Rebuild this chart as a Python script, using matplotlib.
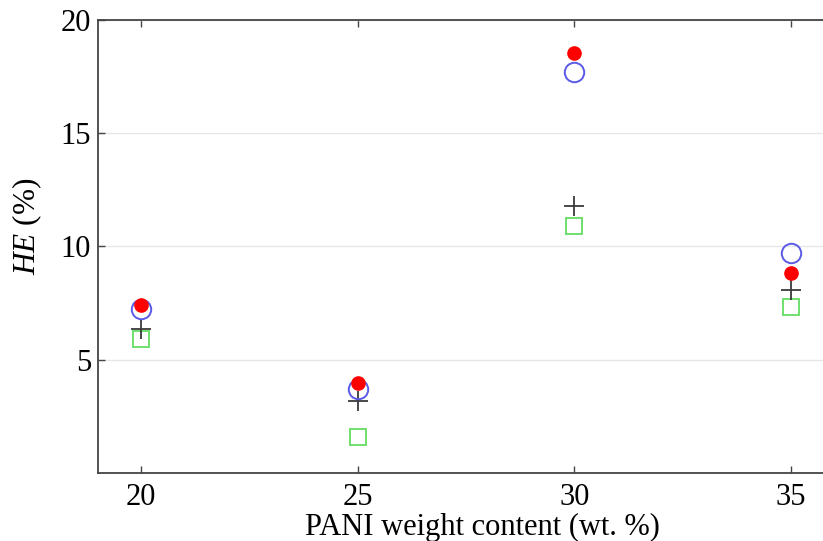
import matplotlib
matplotlib.use("Agg")
import matplotlib.pyplot as plt

# PANI weight content (wt. %) and HE (%) for four sample groups
pani_content = [20, 25, 30, 35]
he_filled = [7.42, 3.97, 18.53, 8.85]
he_circle = [7.23, 3.70, 17.70, 9.70]
he_plus = [6.35, 3.20, 11.80, 8.06]
he_square = [5.91, 1.59, 10.91, 7.35]

x_ticks = [20, 25, 30, 35]
y_ticks = [5, 10, 15, 20]

plt.rcParams['font.family'] = ['Liberation Serif', 'DejaVu Serif']
plt.rcParams['mathtext.fontset'] = 'custom'
plt.rcParams['mathtext.it'] = 'Liberation Serif:italic'
plt.rcParams['mathtext.rm'] = 'Liberation Serif'

fig = plt.figure(figsize=(8.23, 5.41), dpi=100)
W, H = 823, 541
left, right, top, bottom = 98, 834, 20, 473
ax = fig.add_axes([left / W, 1 - bottom / H, (right - left) / W, (bottom - top) / H])

ax.plot(pani_content, he_square, linestyle='none', marker='s', markersize=11.5,
        markerfacecolor='none', markeredgecolor='#6ee06e', markeredgewidth=1.4, zorder=3)
ax.plot(pani_content, he_plus, linestyle='none', marker='+', markersize=15,
        color='#3a3a3a', markeredgewidth=1.3, zorder=4)
ax.plot(pani_content, he_circle, linestyle='none', marker='o', markersize=14,
        markerfacecolor='none', markeredgecolor='#5a5ae6', markeredgewidth=1.4, zorder=5)
ax.plot(pani_content, he_filled, linestyle='none', marker='o', markersize=9.5,
        color='#ff0000', zorder=6)

ax.set_xlim(19, 36)
ax.set_ylim(0, 20)
ax.set_xticks(x_ticks)
ax.set_yticks(y_ticks)
ax.grid(axis='y', color='#e6e6e6', linewidth=1.0)
ax.set_axisbelow(True)

for s in ax.spines.values():
    s.set_color('#444444')
    s.set_linewidth(1.3)

ax.tick_params(axis='both', direction='in', length=5, width=1.0, color='#444444',
               labelsize=22, top=True, right=False)
ax.tick_params(axis='x', pad=7)
ax.tick_params(axis='y', pad=5)

# axis titles placed in figure pixels
fig.text(482 / W, 1 - 535 / H, 'PANI weight content (wt. %)', fontsize=22,
         ha='center', va='baseline')
fig.text(27 / W, 1 - 226 / H, r'$\mathit{HE}$ (%)', fontsize=22.5,
         ha='center', va='center', rotation=90)

fig.savefig('out.png', dpi=100)
